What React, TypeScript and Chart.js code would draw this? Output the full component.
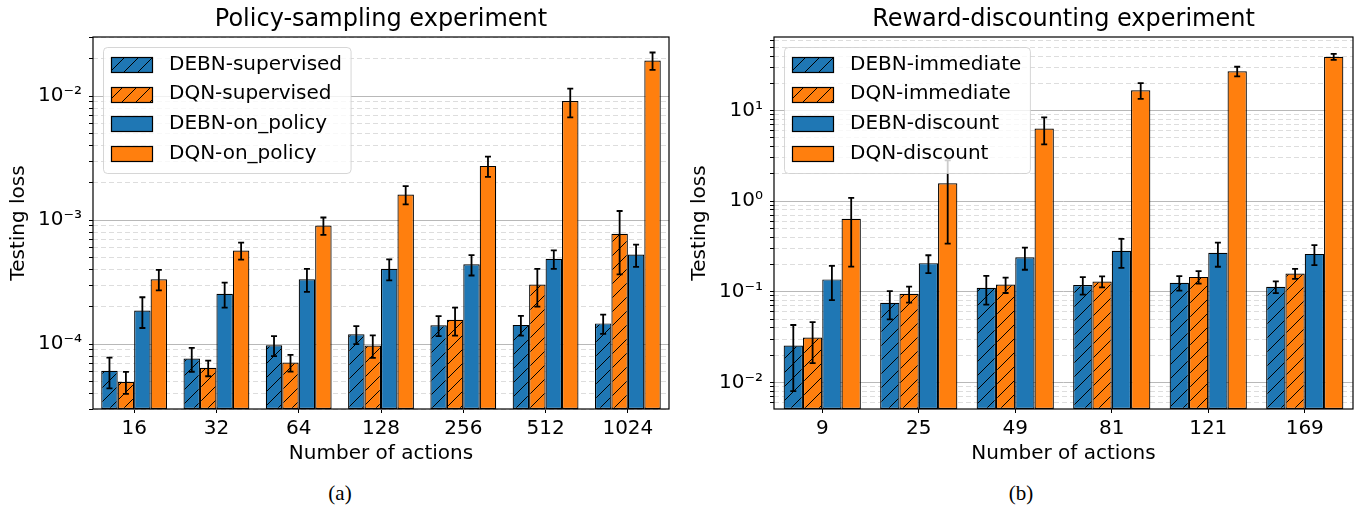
import React, { useEffect, useRef } from 'react';
import { Chart, registerables } from 'chart.js';
Chart.register(...registerables);

const FONT = "'DejaVu Sans', sans-serif";
const BLUE = '#1f77b4';
const ORANGE = '#ff7f0e';

// ---- Policy-sampling experiment ----
const policyCategories = ['16', '32', '64', '128', '256', '512', '1024'];
const debnSupervised = [6.1e-5, 7.66e-5, 9.8e-5, 1.2e-4, 1.42e-4, 1.43e-4, 1.47e-4];
const debnSupervisedErr = [1.7e-5, 1.67e-5, 1.8e-5, 2.0e-5, 2.6e-5, 2.6e-5, 2.6e-5];
const dqnSupervised = [4.97e-5, 6.44e-5, 7.11e-5, 9.76e-5, 1.57e-4, 3.03e-4, 7.76e-4];
const dqnSupervisedErr = [1.0e-5, 0.93e-5, 1.1e-5, 2.0e-5, 0.4e-4, 1.02e-4, 4.1e-4];
const debnOnPolicy = [1.87e-4, 2.55e-4, 3.34e-4, 4.05e-4, 4.4e-4, 4.88e-4, 5.28e-4];
const debnOnPolicyErr = [0.52e-4, 0.58e-4, 0.7e-4, 0.78e-4, 0.82e-4, 0.83e-4, 1.08e-4];
const dqnOnPolicy = [3.34e-4, 5.7e-4, 9.06e-4, 1.61e-3, 2.74e-3, 9.12e-3, 1.94e-2];
const dqnOnPolicyErr = [0.63e-4, 0.9e-4, 1.45e-4, 0.27e-3, 0.51e-3, 2.38e-3, 0.31e-2];
const policyRange = [3e-5, 0.03];
const policyTickLabels: Record<string, string> = { '-4': '10\u207B\u2074', '-3': '10\u207B\u00B3', '-2': '10\u207B\u00B2' };

// ---- Reward-discounting experiment ----
const rewardCategories = ['9', '25', '49', '81', '121', '169'];
const debnImmediate = [0.0255, 0.0756, 0.111, 0.119, 0.126, 0.1135];
const debnImmediateErr = [0.0175, 0.026, 0.039, 0.026, 0.023, 0.017];
const dqnImmediate = [0.0313, 0.095, 0.12, 0.13, 0.146, 0.159];
const dqnImmediateErr = [0.015, 0.019, 0.023, 0.018, 0.023, 0.02];
const debnDiscount = [0.137, 0.207, 0.241, 0.284, 0.269, 0.262];
const debnDiscountErr = [0.056, 0.046, 0.066, 0.1, 0.08, 0.065];
const dqnDiscount = [0.64, 1.58, 6.34, 16.8, 27.2, 39.3];
const dqnDiscountErr = [0.45, 1.24, 2.09, 3.35, 3.3, 3.0];
const rewardRange = [0.00508, 65];
const rewardTickLabels: Record<string, string> = { '-2': '10\u207B\u00B2', '-1': '10\u207B\u00B9', '0': '10\u2070', '1': '10\u00B9' };

const HATCH = 14;
function makeHatch(color: string): CanvasPattern | string {
  const c = document.createElement('canvas');
  c.width = HATCH;
  c.height = HATCH;
  const g = c.getContext('2d');
  if (!g) return color;
  g.fillStyle = color;
  g.fillRect(0, 0, HATCH, HATCH);
  g.strokeStyle = '#000';
  g.lineWidth = 1;
  g.beginPath();
  g.moveTo(0, HATCH);
  g.lineTo(HATCH, 0);
  g.moveTo(-HATCH / 2, HATCH / 2);
  g.lineTo(HATCH / 2, -HATCH / 2);
  g.moveTo(HATCH / 2, HATCH * 1.5);
  g.lineTo(HATCH * 1.5, HATCH / 2);
  g.stroke();
  return g.createPattern(c, 'repeat') || color;
}

function isDecade(v: number) {
  const l = Math.log10(v);
  return Math.abs(l - Math.round(l)) < 1e-6;
}

function logTicks(min: number, max: number) {
  const out: { value: number }[] = [];
  for (let e = Math.floor(Math.log10(min)); e <= Math.ceil(Math.log10(max)); e++) {
    for (let m = 1; m <= 9; m++) {
      const v = m * Math.pow(10, e);
      if (v >= min * 0.9999 && v <= max * 1.0001) out.push({ value: v });
    }
  }
  return out;
}

const decorPlugin = {
  id: 'decor',
  afterDatasetsDraw(chart: any) {
    const ctx: CanvasRenderingContext2D = chart.ctx;
    const area = chart.chartArea;
    const y = chart.scales.y;
    ctx.save();
    ctx.beginPath();
    ctx.rect(area.left, area.top, area.right - area.left, area.bottom - area.top);
    ctx.clip();
    ctx.strokeStyle = '#000';
    ctx.lineWidth = 1.8;
    chart.data.datasets.forEach((ds: any, i: number) => {
      const meta = chart.getDatasetMeta(i);
      meta.data.forEach((el: any, j: number) => {
        const v = ds.data[j];
        const e = ds.errorBars[j];
        const top = y.getPixelForValue(v + e);
        const bot = y.getPixelForValue(v - e);
        ctx.beginPath();
        ctx.moveTo(el.x, top);
        ctx.lineTo(el.x, bot);
        ctx.moveTo(el.x - 3, top);
        ctx.lineTo(el.x + 3, top);
        ctx.moveTo(el.x - 3, bot);
        ctx.lineTo(el.x + 3, bot);
        ctx.stroke();
      });
    });
    ctx.restore();

    // legend
    ctx.save();
    ctx.font = `20px ${FONT}`;
    const labels: string[] = chart.data.datasets.map((d: any) => d.label);
    const tw = Math.max(...labels.map((l) => ctx.measureText(l).width));
    const bx = area.left + 10.5;
    const by = area.top + 10.5;
    const bw = 7.5 + 41 + 17 + tw + 9;
    const bh = 126;
    const r = 4;
    ctx.beginPath();
    ctx.moveTo(bx + r, by);
    ctx.lineTo(bx + bw - r, by);
    ctx.quadraticCurveTo(bx + bw, by, bx + bw, by + r);
    ctx.lineTo(bx + bw, by + bh - r);
    ctx.quadraticCurveTo(bx + bw, by + bh, bx + bw - r, by + bh);
    ctx.lineTo(bx + r, by + bh);
    ctx.quadraticCurveTo(bx, by + bh, bx, by + bh - r);
    ctx.lineTo(bx, by + r);
    ctx.quadraticCurveTo(bx, by, bx + r, by);
    ctx.closePath();
    ctx.fillStyle = 'rgba(255,255,255,0.8)';
    ctx.fill();
    ctx.strokeStyle = 'rgba(204,204,204,0.8)';
    ctx.lineWidth = 1;
    ctx.stroke();
    chart.data.datasets.forEach((ds: any, k: number) => {
      const cy = by + 17 + k * 29.7;
      const px = Math.round(bx + 7.5) + 0.5;
      const py = Math.round(cy - 7.5) + 0.5;
      ctx.fillStyle = ds.backgroundColor;
      ctx.fillRect(px, py, 41, 15);
      ctx.strokeStyle = '#000';
      ctx.lineWidth = 1.2;
      ctx.strokeRect(px, py, 41, 15);
      ctx.fillStyle = '#000';
      ctx.textBaseline = 'middle';
      ctx.textAlign = 'left';
      ctx.fillText(ds.label, bx + 7.5 + 41 + 17, cy);
    });
    ctx.restore();

    // frame
    ctx.save();
    ctx.strokeStyle = '#000';
    ctx.lineWidth = 1.2;
    ctx.strokeRect(area.left, area.top, area.right - area.left, area.bottom - area.top);
    ctx.restore();
  },
};

type Series = { label: string; data: number[]; err: number[]; color: string; hatch: boolean };

function makeConfig(
  title: string,
  categories: string[],
  series: Series[],
  range: number[],
  tickLabels: Record<string, string>,
  padRight: number
): any {
  const [min, max] = range;
  return {
    type: 'bar',
    data: {
      labels: categories,
      datasets: series.map((s) => ({
        label: s.label,
        data: s.data,
        errorBars: s.err,
        backgroundColor: s.hatch ? makeHatch(s.color) : s.color,
        borderColor: '#000',
        borderWidth: 1.2,
        borderSkipped: false,
        categoryPercentage: 0.8,
        barPercentage: 1.0,
      })),
    },
    options: {
      animation: false,
      responsive: false,
      devicePixelRatio: 1,
      layout: { padding: { left: 0, right: padRight, top: 0, bottom: 0 } },
      plugins: {
        legend: { display: false },
        tooltip: { enabled: false },
        title: {
          display: true,
          text: title,
          fullSize: false,
          color: '#000',
          font: { family: FONT, size: 24, weight: 'normal', lineHeight: 1.2 },
          padding: { top: 5.5, bottom: 2.7 },
        },
      },
      scales: {
        x: {
          type: 'category',
          offset: true,
          grid: { display: true, drawOnChartArea: false, drawTicks: true, tickLength: 4, offset: false, color: '#000', lineWidth: 1 },
          border: { display: false },
          ticks: { color: '#000', font: { family: FONT, size: 20 }, padding: 3.5, autoSkip: false, maxRotation: 0 },
          title: {
            display: true,
            text: 'Number of actions',
            color: '#000',
            font: { family: FONT, size: 20, lineHeight: 1.2 },
            padding: { top: 0, bottom: 4.7 },
          },
          afterFit: (s: any) => {
            s.height = 61;
          },
        },
        y: {
          type: 'logarithmic',
          min,
          max,
          afterBuildTicks: (s: any) => {
            s.ticks = logTicks(min, max);
          },
          grid: {
            color: (c: any) => (c.tick && !isDecade(c.tick.value) ? '#dddddd' : '#b8b8b8'),
            lineWidth: 1,
            drawTicks: true,
            tickLength: 4,
            tickColor: '#000',
          },
          border: {
            display: false,
            dash: (c: any) => (c.tick && !isDecade(c.tick.value) ? [5, 3] : []),
          },
          ticks: {
            autoSkip: false,
            color: '#000',
            font: { family: FONT, size: 20 },
            padding: 7,
            callback: (value: any) => {
              const v = Number(value);
              if (!isDecade(v)) return '';
              return tickLabels[String(Math.round(Math.log10(v)))] ?? '';
            },
          },
          title: {
            display: true,
            text: 'Testing loss',
            color: '#000',
            font: { family: FONT, size: 20, lineHeight: 1.2 },
            padding: { top: 7, bottom: 0 },
          },
          afterFit: (s: any) => {
            s.width = 93;
          },
        },
      },
    },
    plugins: [decorPlugin],
  };
}

export default function App() {
  const leftRef = useRef<HTMLCanvasElement>(null);
  const rightRef = useRef<HTMLCanvasElement>(null);

  useEffect(() => {
    if (!leftRef.current || !rightRef.current) return;
    const left = new Chart(
      leftRef.current,
      makeConfig(
        'Policy-sampling experiment',
        policyCategories,
        [
          { label: 'DEBN-supervised', data: debnSupervised, err: debnSupervisedErr, color: BLUE, hatch: true },
          { label: 'DQN-supervised', data: dqnSupervised, err: dqnSupervisedErr, color: ORANGE, hatch: true },
          { label: 'DEBN-on_policy', data: debnOnPolicy, err: debnOnPolicyErr, color: BLUE, hatch: false },
          { label: 'DQN-on_policy', data: dqnOnPolicy, err: dqnOnPolicyErr, color: ORANGE, hatch: false },
        ],
        policyRange,
        policyTickLabels,
        12
      )
    );
    const right = new Chart(
      rightRef.current,
      makeConfig(
        'Reward-discounting experiment',
        rewardCategories,
        [
          { label: 'DEBN-immediate', data: debnImmediate, err: debnImmediateErr, color: BLUE, hatch: true },
          { label: 'DQN-immediate', data: dqnImmediate, err: dqnImmediateErr, color: ORANGE, hatch: true },
          { label: 'DEBN-discount', data: debnDiscount, err: debnDiscountErr, color: BLUE, hatch: false },
          { label: 'DQN-discount', data: dqnDiscount, err: dqnDiscountErr, color: ORANGE, hatch: false },
        ],
        rewardRange,
        rewardTickLabels,
        9
      )
    );
    return () => {
      left.destroy();
      right.destroy();
    };
  }, []);

  const capStyle: React.CSSProperties = {
    position: 'absolute',
    top: 482,
    width: 100,
    textAlign: 'center',
    fontFamily: "'Liberation Serif', serif",
    fontSize: 21,
    lineHeight: '22px',
    color: '#000',
  };

  return (
    <div style={{ position: 'absolute', left: 0, top: 0, width: 1362, height: 509, background: '#fff', overflow: 'hidden' }}>
      <canvas ref={leftRef} width={681} height={470} style={{ position: 'absolute', left: 0, top: 0 }} />
      <canvas ref={rightRef} width={681} height={470} style={{ position: 'absolute', left: 681, top: 0 }} />
      <div style={{ ...capStyle, left: 290 }}>(a)</div>
      <div style={{ ...capStyle, left: 971 }}>(b)</div>
    </div>
  );
}
